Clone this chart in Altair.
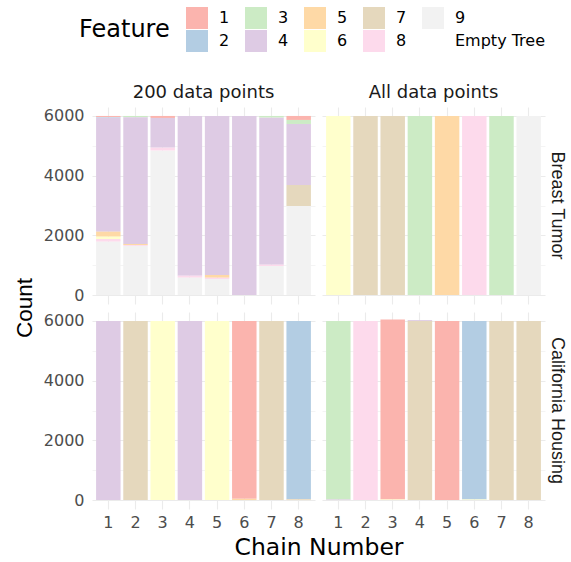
import altair as alt
import pandas as pd

features = ["1", "2", "3", "4", "5", "6", "7", "8", "9", "Empty Tree"]
palette = ["#FBB4AE", "#B3CDE3", "#CCEBC5", "#DECBE4", "#FED9A6",
           "#FFFFCC", "#E5D8BD", "#FDDAEC", "#F2F2F2", "#FFFFFF"]
chains = [1, 2, 3, 4, 5, 6, 7, 8]
datasets = ["Breast Tumor", "California Housing"]
samples = ["200 data points", "All data points"]

# counts per feature, one value per chain (1..8)
bt_200 = {
    "1": [34, 0, 67, 0, 0, 0, 0, 134],
    "2": [23, 0, 0, 0, 0, 0, 0, 0],
    "3": [0, 45, 0, 0, 0, 0, 56, 134],
    "4": [3820, 4245, 995, 5352, 5329, 6000, 4927, 2046],
    "5": [168, 35, 0, 0, 90, 0, 0, 0],
    "6": [78, 0, 0, 0, 0, 0, 0, 0],
    "7": [0, 0, 0, 0, 0, 0, 0, 704],
    "8": [90, 30, 100, 67, 45, 0, 45, 0],
    "9": [1787, 1645, 4838, 581, 536, 0, 972, 2982],
}
bt_all = {
    "3": [0, 0, 0, 6000, 0, 0, 6000, 0],
    "5": [0, 0, 0, 0, 6000, 0, 0, 0],
    "6": [6000, 0, 0, 0, 0, 0, 0, 0],
    "7": [0, 6000, 6000, 0, 0, 0, 0, 0],
    "8": [0, 0, 0, 0, 0, 6000, 0, 0],
    "9": [0, 0, 0, 0, 0, 0, 0, 6000],
}
ch_200 = {
    "1": [0, 0, 0, 0, 0, 5960, 0, 0],
    "2": [0, 0, 0, 0, 0, 0, 0, 5980],
    "4": [6000, 0, 0, 6000, 0, 0, 0, 0],
    "5": [0, 0, 0, 0, 0, 40, 0, 20],
    "6": [0, 0, 6000, 0, 6000, 0, 0, 0],
    "7": [0, 6000, 0, 0, 0, 0, 6000, 0],
}
ch_all = {
    "1": [0, 0, 6030, 0, 6000, 0, 0, 0],
    "2": [0, 0, 0, 0, 0, 5980, 0, 0],
    "3": [5980, 0, 0, 0, 0, 0, 0, 0],
    "4": [20, 0, 0, 30, 0, 0, 0, 0],
    "6": [0, 0, 20, 0, 0, 20, 0, 0],
    "7": [0, 0, 0, 6000, 0, 0, 6000, 6000],
    "8": [0, 6000, 0, 0, 0, 0, 0, 0],
}

panels = [
    (datasets[0], samples[0], bt_200),
    (datasets[0], samples[1], bt_all),
    (datasets[1], samples[0], ch_200),
    (datasets[1], samples[1], ch_all),
]

rows = []
for ds, sm, table in panels:
    for feat, vals in table.items():
        for ch, v in zip(chains, vals):
            if v > 0:
                rows.append({
                    "dataset": ds, "sample": sm, "chain": ch,
                    "feature": feat, "count": v,
                    "stackrank": len(features) - features.index(feat),
                })
df = pd.DataFrame(rows)

# column-major legend order for a 2-row, 5-column legend
legend_order = ["1", "3", "5", "7", "9", "2", "4", "6", "8", "Empty Tree"]
legend_colors = [palette[features.index(f)] for f in legend_order]

HFONT = "DejaVu Sans"
VFONT = "Liberation Sans"

bars = alt.Chart(df).mark_bar().encode(
    x=alt.X("chain:O", title=None,
            scale=alt.Scale(paddingInner=0.1, paddingOuter=0.15),
            axis=alt.Axis(labelAngle=0, ticks=False, domain=False, grid=True,
                          bandPosition=0.5, gridColor="#EBEBEB", gridWidth=1.1,
                          labelFont=HFONT, labelFontSize=16, labelColor="#4D4D4D",
                          labelPadding=5)),
    y=alt.Y("count:Q", stack="zero", title=None,
            scale=alt.Scale(domain=[-300, 6300], nice=False, zero=False),
            axis=alt.Axis(values=[0, 1000, 2000, 3000, 4000, 5000, 6000],
                          labelExpr="datum.value % 2000 === 0 ? format(datum.value, 'd') : ''",
                          ticks=False, domain=False, grid=True, gridColor="#EBEBEB",
                          gridWidth={"condition": {"test": "datum.value % 2000 === 0", "value": 1.1},
                                     "value": 0.55},
                          labelFont=HFONT, labelFontSize=16, labelColor="#4D4D4D",
                          labelPadding=8)),
    color=alt.Color("feature:N", title="Feature",
                    scale=alt.Scale(domain=legend_order, range=legend_colors),
                    legend=alt.Legend(orient="none", legendX=-13, legendY=-100,
                                      direction="horizontal", columns=5,
                                      titleOrient="left", titleAnchor="middle",
                                      titleBaseline="middle",
                                      titleFont=HFONT, titleFontSize=24,
                                      titleFontWeight="normal", titleColor="#000000",
                                      titlePadding=16,
                                      labelFont=HFONT, labelFontSize=16,
                                      labelColor="#000000", labelOffset=11,
                                      symbolType="square", symbolSize=484,
                                      symbolStrokeWidth=0, symbolOpacity=1,
                                      rowPadding=1, columnPadding=15)),
    order=alt.Order("stackrank:Q", sort="ascending"),
).properties(width=223, height=197)

chart = bars.facet(
    column=alt.Column("sample:N", title="Chain Number", sort=samples,
                      header=alt.Header(labelFont=HFONT, labelFontSize=18,
                                        labelColor="#1A1A1A", labelPadding=5,
                                        labelOrient="top",
                                        titleOrient="bottom", titleFont=HFONT,
                                        titleFontSize=23.5, titleFontWeight="normal",
                                        titleColor="#000000", titlePadding=-4)),
    row=alt.Row("dataset:N", title="Count", sort=datasets,
                header=alt.Header(labelOrient="right", labelAngle=90,
                                  labelFont=VFONT, labelFontSize=18,
                                  labelColor="#1A1A1A", labelPadding=3,
                                  titleOrient="left", titleFont=VFONT,
                                  titleFontSize=22.5, titleFontWeight="normal",
                                  titleColor="#000000", titlePadding=-3)),
    spacing={"row": 8, "column": 7},
).properties(
    padding={"left": 13, "top": 7, "right": 2, "bottom": 2}
).configure_view(stroke=None)

chart.save("out.html", embed_options={"renderer": "svg", "actions": False})
